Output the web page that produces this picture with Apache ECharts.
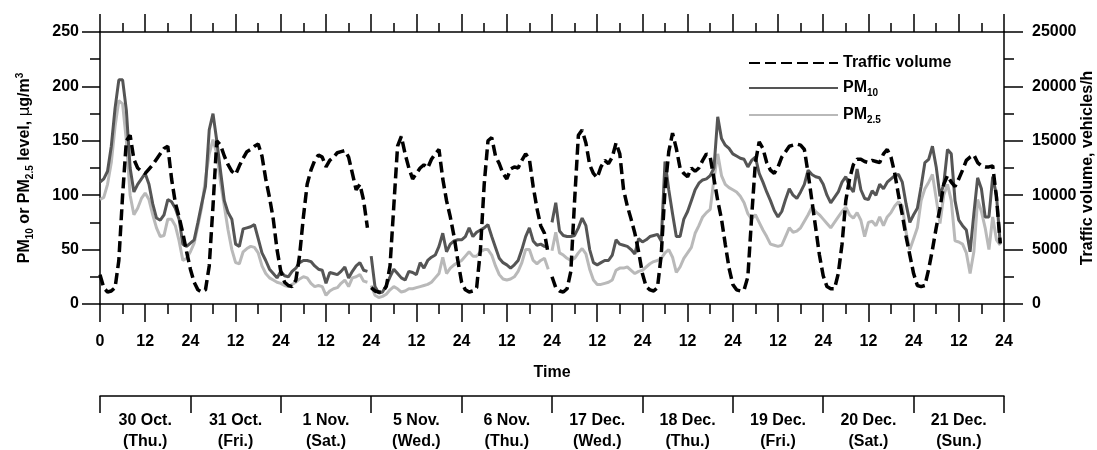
<!DOCTYPE html>
<html lang="en">
<head>
    <meta charset="UTF-8">
    <title>Traffic volume and PM levels</title>
    <script src="https://cdn.jsdelivr.net/npm/echarts@6/dist/echarts.min.js"></script>
    <style>
        body { margin: 0; padding: 0; background: #ffffff; }
        #chart { width: 1097px; height: 450px; }
    </style>
</head>
<body>
    <div id="chart"></div>
    <script>
        // day blocks shown under the time axis
        const dayLabels = ['30 Oct.\n(Thu.)', '31 Oct.\n(Fri.)', '1 Nov.\n(Sat.)', '5 Nov.\n(Wed.)', '6 Nov.\n(Thu.)',
            '17 Dec.\n(Wed.)', '18 Dec.\n(Thu.)', '19 Dec.\n(Fri.)', '20 Dec.\n(Sat.)', '21 Dec.\n(Sun.)'];

        // hourly values, 24 per day, hour index 0..239
        const traffic = [
            2700, 1500, 1100, 1200, 1500, 4000, 10000, 15000, 15500, 13300, 12500, 12200, 12000, 12400, 12800, 13300, 13800, 14300, 14500, 11500, 9300, 8000, 6500, 4800,
            3200, 2000, 1300, 1100, 1300, 3500, 9000, 15000, 14600, 13600, 12800, 12200, 11900, 12700, 13400, 14000, 14200, 14500, 14700, 13600, 11500, 9800, 7800, 5000,
            3000, 2000, 1700, 1600, 2200, 4500, 8000, 11000, 12300, 13200, 13700, 13500, 12600, 13200, 13500, 13900, 14000, 14100, 13500, 12000, 10500, 11000, 9500, 7000,
            1500, 1200, 1100, 1100, 1600, 3500, 9000, 14500, 15400, 13800, 12500, 11500, 12000, 12500, 12800, 12500, 13300, 13800, 14200, 11500, 9500, 8000, 6200, 4000,
            2000, 1300, 1100, 1200, 1500, 5000, 11000, 15000, 15300, 13600, 12900, 12000, 11500, 12400, 12600, 12500, 13200, 13800, 13300, 10800, 8800, 7200, 6500, 4600,
            2500, 1500, 1200, 1100, 1400, 3000, 9500, 15500, 16000, 14800, 12800, 12000, 11600, 12600, 13200, 12900, 13500, 14800, 13800, 10500, 9000, 7800, 6500, 4800,
            2800, 1600, 1300, 1200, 1500, 4500, 10500, 14000, 15700, 14300, 12500, 12000, 11700, 12500, 12200, 12500, 13200, 13800, 13500, 11500, 9500, 7800, 5500, 3300,
            1800, 1300, 1200, 1300, 2500, 8000, 13000, 14900, 14300, 13000, 12300, 12000, 12600, 13500, 14000, 14500, 14600, 14700, 14600, 14200, 12000, 9500, 7000, 4500,
            2600, 1600, 1400, 1400, 2800, 5500, 9500, 11500, 12800, 13300, 13300, 13100, 13000, 13200, 13100, 13000, 13800, 14200, 13500, 12000, 10000, 8200, 6200, 4500,
            2800, 1700, 1600, 1700, 3200, 5000, 7000, 8800, 11000, 11800, 11200, 10800, 11500, 12300, 13200, 13500, 13700, 13000, 12700, 12600, 12600, 12700, 9800, 5600
        ];
        const pm10 = [
            112, 115, 122, 145, 180, 206, 206, 178, 125, 103, 110, 115, 120, 110, 92, 79, 77, 82, 96, 94, 88, 78, 55, 53,
            56, 59, 75, 92, 108, 160, 175, 150, 122, 95, 84, 78, 55, 53, 69, 70, 71, 73, 60, 47, 40, 32, 28, 24,
            30, 26, 25, 30, 33, 38, 40, 40, 39, 35, 32, 31, 19, 29, 28, 27, 30, 34, 24, 30, 35, 38, 31, 30,
            44, 16, 10, 11, 17, 25, 32, 28, 24, 22, 30, 29, 27, 38, 33, 40, 43, 45, 53, 65, 48, 55, 58, 59,
            59, 62, 70, 62, 66, 68, 70, 73, 62, 52, 42, 38, 36, 33, 36, 40, 50, 62, 70, 58, 54, 55, 53, 52,
            75, 93, 67, 63, 62, 62, 63, 70, 79, 72, 50, 38, 36, 38, 40, 40, 45, 59, 55, 54, 53, 50, 46, 60,
            57, 59, 62, 63, 64, 58, 131, 105, 83, 62, 62, 78, 85, 95, 105, 111, 114, 115, 118, 125, 172, 152, 146, 143,
            138, 136, 134, 133, 126, 132, 135, 120, 112, 103, 95, 86, 80, 85, 96, 106, 100, 97, 103, 110, 123, 119, 117, 116,
            110, 100, 93, 98, 103, 112, 117, 108, 103, 124, 105, 97, 96, 104, 100, 110, 106, 112, 115, 118, 119, 112, 92, 75,
            82, 88, 108, 130, 133, 145, 126, 99, 110, 142, 138, 95, 77, 72, 68, 48, 83, 116, 106, 80, 80, 117, 100, 55
        ];
        const pm25 = [
            96, 98, 110, 130, 163, 187, 184, 150, 100, 82, 88, 97, 102, 96, 82, 70, 62, 63, 78, 78, 72, 58, 40, 42,
            48, 56, 72, 89, 115, 138, 151, 138, 112, 90, 68, 50, 38, 37, 48, 51, 53, 52, 47, 35, 28, 24, 22, 20,
            19, 17, 16, 18, 20, 23, 25, 24, 19, 16, 17, 16, 8, 12, 14, 15, 19, 22, 16, 24, 25, 27, 21, 20,
            17, 8, 6, 7, 9, 13, 16, 14, 11, 12, 14, 14, 15, 16, 17, 18, 20, 24, 28, 43, 28, 33, 36, 38,
            40, 44, 48, 44, 44, 48, 50, 50, 45, 35, 27, 23, 22, 23, 25, 30, 38, 50, 50, 40, 37, 40, 42, 32,
            49, 66, 47, 45, 42, 40, 42, 47, 51, 46, 32, 22, 18, 18, 19, 20, 22, 31, 33, 33, 34, 31, 28, 30,
            31, 34, 37, 39, 40, 42, 47, 50, 43, 29, 34, 42, 47, 52, 65, 72, 80, 84, 87, 115, 138, 118, 110, 107,
            105, 103, 99, 93, 83, 78, 82, 75, 68, 62, 55, 54, 53, 54, 62, 70, 66, 67, 70, 76, 82, 89, 85, 82,
            78, 74, 70, 75, 80, 85, 89, 82, 79, 84, 77, 62, 75, 76, 72, 80, 72, 80, 84, 90, 94, 90, 66, 50,
            60, 70, 95, 106, 112, 119, 97, 74, 100, 110, 95, 58, 57, 55, 47, 28, 48, 96, 85, 70, 50, 80, 59, 54
        ];
        // measurements were not taken on consecutive days here
        const breaksAfter = [71, 119];

        const font = 'Liberation Sans, Arial, sans-serif';
        const black = '#000';

        function toSeries(values) {
            const out = [];
            values.forEach((v, i) => {
                out.push([i, v]);
                if (breaksAfter.includes(i)) out.push([i + 0.5, null]);
            });
            return out;
        }

        const rich = {
            n: { fontFamily: font, fontWeight: 'bold', fontSize: 16, lineHeight: 20, color: black },
            s: { fontFamily: font, fontWeight: 'bold', fontSize: 10, lineHeight: 10, verticalAlign: 'bottom', color: black },
            p: { fontFamily: font, fontWeight: 'bold', fontSize: 10, lineHeight: 14, verticalAlign: 'top', color: black },
            u: { fontFamily: 'DejaVu Sans, sans-serif', fontSize: 15, lineHeight: 20, color: black }
        };
        const legendText = {
            'Traffic volume': '{n|Traffic volume}',
            'PM10': '{n|PM}{s|10}',
            'PM2.5': '{n|PM}{s|2.5}'
        };

        const lineStyle = { color: black, width: 1.5 };
        const labelStyle = { fontFamily: font, fontWeight: 'bold', fontSize: 16, color: black };

        const chart = echarts.init(document.getElementById('chart'));
        chart.setOption({
            animation: false,
            grid: { left: 100, right: 93, top: 32, bottom: 146, outerBoundsMode: 'none', containLabel: false },
            legend: {
                orient: 'vertical',
                left: 748,
                top: 55,
                padding: 0,
                itemWidth: 89,
                itemHeight: 14,
                itemGap: 9,
                itemTextGap: 10,
                data: ['Traffic volume', 'PM10', 'PM2.5'],
                formatter: name => legendText[name],
                itemStyle: { opacity: 0 },
                textStyle: { fontFamily: font, fontWeight: 'bold', fontSize: 16, color: black, rich: rich }
            },
            xAxis: [
                {
                    type: 'value', min: 0, max: 240, interval: 12, position: 'bottom',
                    name: 'Time', nameLocation: 'middle', nameGap: 61,
                    nameTextStyle: labelStyle,
                    axisLine: { onZero: false, lineStyle: lineStyle },
                    axisTick: { length: 18, lineStyle: lineStyle },
                    minorTick: { show: true, splitNumber: 2, length: 10, lineStyle: lineStyle },
                    splitLine: { show: false },
                    axisLabel: Object.assign({
                        margin: 30,
                        formatter: v => v === 0 ? '0' : (v % 24 === 0 ? '24' : '12')
                    }, labelStyle)
                },
                {
                    type: 'value', min: 0, max: 240, interval: 12, position: 'top',
                    axisLine: { onZero: false, lineStyle: lineStyle },
                    axisTick: { length: 18, lineStyle: lineStyle },
                    minorTick: { show: true, splitNumber: 2, length: 9, lineStyle: lineStyle },
                    splitLine: { show: false },
                    axisLabel: { show: false }
                },
                {
                    type: 'category', data: dayLabels, position: 'bottom', offset: 92,
                    boundaryGap: true,
                    axisLine: { onZero: false, lineStyle: lineStyle },
                    axisTick: { show: true, interval: 0, alignWithLabel: false, length: 17, lineStyle: lineStyle },
                    axisLabel: Object.assign({ margin: 14, lineHeight: 21, interval: 0 }, labelStyle)
                }
            ],
            yAxis: [
                {
                    type: 'value', min: 0, max: 250, interval: 50, position: 'left',
                    name: '{n|PM}{s|10}{n| or PM}{s|2.5}{n| level, }{u|μ}{n|g/m}{p|3}',
                    nameLocation: 'middle', nameGap: 65, nameRotate: 90, nameMoveOverlap: false,
                    nameTextStyle: { rich: rich },
                    axisLine: { show: true, onZero: false, lineStyle: lineStyle },
                    axisTick: { length: 18, lineStyle: lineStyle },
                    minorTick: { show: true, splitNumber: 2, length: 10, lineStyle: lineStyle },
                    splitLine: { show: false },
                    axisLabel: Object.assign({ margin: 21 }, labelStyle)
                },
                {
                    type: 'value', min: 0, max: 25000, interval: 5000, position: 'right',
                    name: 'Traffic volume, vehicles/h',
                    nameLocation: 'middle', nameGap: 76, nameRotate: 90, nameMoveOverlap: false,
                    nameTextStyle: labelStyle,
                    axisLine: { show: true, onZero: false, lineStyle: lineStyle },
                    axisTick: { length: 19, lineStyle: lineStyle },
                    minorTick: { show: true, splitNumber: 2, length: 10, lineStyle: lineStyle },
                    splitLine: { show: false },
                    axisLabel: Object.assign({ margin: 28, formatter: v => String(v) }, labelStyle)
                }
            ],
            series: [
                {
                    name: 'PM2.5', type: 'line', xAxisIndex: 0, yAxisIndex: 0,
                    data: toSeries(pm25), symbol: 'none', connectNulls: false,
                    itemStyle: { color: '#b9b9b9' },
                    lineStyle: { color: '#b9b9b9', width: 3 }
                },
                {
                    name: 'PM10', type: 'line', xAxisIndex: 0, yAxisIndex: 0,
                    data: toSeries(pm10), symbol: 'none', connectNulls: false,
                    itemStyle: { color: '#555555' },
                    lineStyle: { color: '#555555', width: 3 }
                },
                {
                    name: 'Traffic volume', type: 'line', xAxisIndex: 0, yAxisIndex: 1,
                    data: toSeries(traffic), symbol: 'none', connectNulls: false,
                    itemStyle: { color: black },
                    lineStyle: { color: black, width: 3.5, type: [11, 5] }
                }
            ]
        });
    </script>
</body>
</html>
